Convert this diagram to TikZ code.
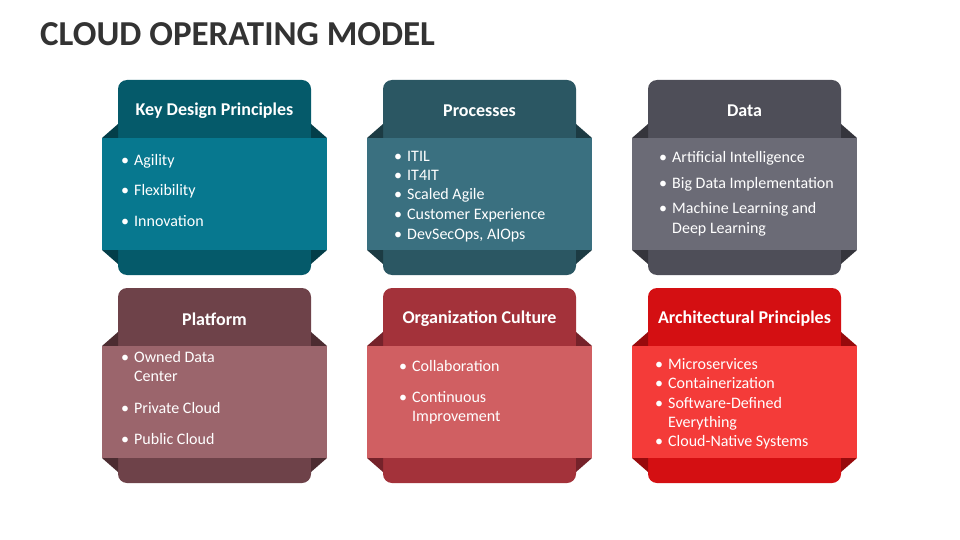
\documentclass[tikz,border=0pt]{standalone}
\usepackage{fontspec}
\setmainfont{Carlito}
\begin{document}
\begin{tikzpicture}[x=1pt,y=-1pt,
  hdr/.style={text=white,font=\fontsize{18}{20}\selectfont\bfseries,anchor=center},
  itm/.style={text=white,font=\fontsize{16}{18}\selectfont,anchor=base west,inner sep=0pt}]
\useasboundingbox (0,0) rectangle (960,540);
\fill[white] (0,0) rectangle (960,540);
\node[anchor=base west,inner sep=0pt,text=black!80,font=\fontsize{35}{38}\selectfont\bfseries] (title) at (40,46) {CLOUD OPERATING MODEL};
\newcommand{\mycard}[7]{%
 \fill[#3,rounded corners=9pt] (#1+16,#2) rectangle (#1+209,#2+195);
 \fill[#5] (#1,#2+58) -- (#1+16,#2+44) -- (#1+16,#2+58) -- cycle;
 \fill[#5] (#1+225,#2+58) -- (#1+209,#2+44) -- (#1+209,#2+58) -- cycle;
 \fill[#5] (#1,#2+170) -- (#1+16,#2+184) -- (#1+16,#2+170) -- cycle;
 \fill[#5] (#1+225,#2+170) -- (#1+209,#2+184) -- (#1+209,#2+170) -- cycle;
 \fill[#4] (#1,#2+58) rectangle (#1+225,#2+170);
 \node[hdr] (#6) at (#1+112.5,#2+31) {#7};
}
\definecolor{t1}{HTML}{055A6A}\definecolor{b1}{HTML}{07788F}\definecolor{f1}{HTML}{033E49}
\definecolor{t2}{HTML}{2B5763}\definecolor{b2}{HTML}{3A7080}\definecolor{f2}{HTML}{1C3B43}
\definecolor{t3}{HTML}{4E4E58}\definecolor{b3}{HTML}{6B6B76}\definecolor{f3}{HTML}{35353C}
\definecolor{t4}{HTML}{6E4249}\definecolor{b4}{HTML}{9B656C}\definecolor{f4}{HTML}{4C2C31}
\definecolor{t5}{HTML}{A3323A}\definecolor{b5}{HTML}{D05F62}\definecolor{f5}{HTML}{75222A}
\definecolor{t6}{HTML}{D40F12}\definecolor{b6}{HTML}{F43B39}\definecolor{f6}{HTML}{980A0C}
\mycard{102}{80}{t1}{b1}{f1}{c1}{Key Design Principles}
\mycard{367}{80}{t2}{b2}{f2}{c2}{Processes}
\mycard{632}{80}{t3}{b3}{f3}{c3}{Data}
\mycard{102}{288}{t4}{b4}{f4}{c4}{Platform}
\mycard{367}{288}{t5}{b5}{f5}{c5}{Organization Culture}
\mycard{632}{288}{t6}{b6}{f6}{c6}{Architectural Principles}
\newcommand{\bl}[1]{\makebox[13pt][l]{•}#1}
% card 1
\node[itm] (a1) at (121,165) {\bl{Agility}};
\node[itm] (a2) at (121,195) {\bl{Flexibility}};
\node[itm] (a3) at (121,226) {\bl{Innovation}};
% card 2
\node[itm] (p1) at (394,161) {\bl{ITIL}};
\node[itm] (p2) at (394,180) {\bl{IT4IT}};
\node[itm] (p3) at (394,200) {\bl{Scaled Agile}};
\node[itm] (p4) at (394,219) {\bl{Customer Experience}};
\node[itm] (p5) at (394,239) {\bl{DevSecOps, AIOps}};
% card 3
\node[itm] (d1) at (659,163) {\bl{Artificial Intelligence}};
\node[itm] (d2) at (659,188) {\bl{Big Data Implementation}};
\node[itm] (d3) at (659,213) {\bl{Machine Learning and}};
\node[itm] (d4) at (672,233) {Deep Learning};
% card 4
\node[itm] (l1) at (121,362) {\bl{Owned Data}};
\node[itm] (l2) at (134,381) {Center};
\node[itm] (l3) at (121,413) {\bl{Private Cloud}};
\node[itm] (l4) at (121,444) {\bl{Public Cloud}};
% card 5
\node[itm] (o1) at (399,371) {\bl{Collaboration}};
\node[itm] (o2) at (399,402) {\bl{Continuous}};
\node[itm] (o3) at (412,421) {Improvement};
% card 6
\node[itm] (r1) at (655,369) {\bl{Microservices}};
\node[itm] (r2) at (655,388) {\bl{Containerization}};
\node[itm] (r3) at (655,408) {\bl{Software-Defined}};
\node[itm] (r4) at (668,427) {Everything};
\node[itm] (r5) at (655,446) {\bl{Cloud-Native Systems}};
\end{tikzpicture}
\end{document}
